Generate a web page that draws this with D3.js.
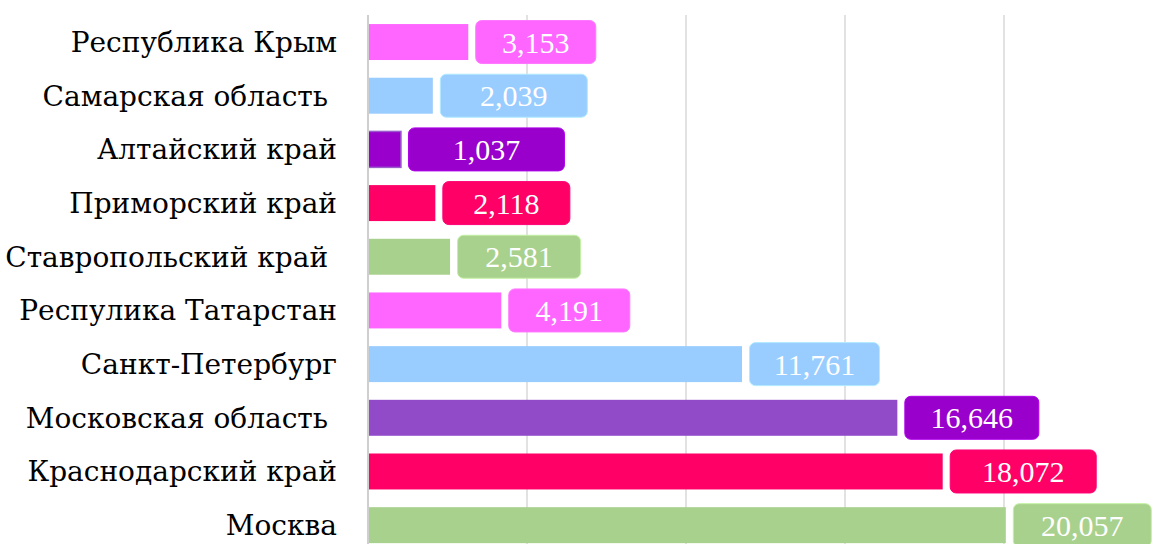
<!DOCTYPE html>
<html>
<head>
<meta charset="utf-8">
<script src="https://cdn.jsdelivr.net/npm/d3@7"></script>
<style>
  body { margin: 0; background: #fff; }
  svg { display: block; }
</style>
</head>
<body>
<svg width="1152" height="544"></svg>
<script>
// Data
var regions = ["Республика Крым", "Самарская область ", "Алтайский край", "Приморский край",
    "Ставропольский край ", "Респулика Татарстан", "Санкт-Петербург", "Московская область ",
    "Краснодарский край", "Москва"];
var values = [3153, 2039, 1037, 2118, 2581, 4191, 11761, 16646, 18072, 20057];
var ticks = [0, 5000, 10000, 15000, 20000, 25000];

// Colors (bar fill / label box fill)
var barColors = ["#FF66FF", "#99CCFF", "#9900CC", "#FF0066", "#A9D18E",
    "#FF66FF", "#99CCFF", "#914AC8", "#FF0066", "#A9D18E"];
var boxColors = ["#FF66FF", "#99CCFF", "#9900CC", "#FF0066", "#A9D18E",
    "#FF66FF", "#99CCFF", "#9900CC", "#FF0066", "#A9D18E"];
// label box widths (the boxes were resized by hand in the original)
var boxWidths = [120, 147, 156, 127, 123, 121, 130, 134, 146, 138];

var svg = d3.select("svg"),
    width = +svg.attr("width"),
    height = +svg.attr("height");

var font = "'Liberation Serif', 'DejaVu Serif', serif";
// Liberation Serif here has no cyrillic, so category names use DejaVu Serif
var catFont = "'DejaVu Serif', serif";

var x = d3.scaleLinear()
    .domain([0, 25000])
    .range([368, 1163]);

var y = d3.scaleBand()
    .domain(regions)
    .range([15.2, 552])
    .paddingInner(0.33)
    .paddingOuter(0.165);

// gridlines
svg.append("g")
    .selectAll("line")
    .data(ticks.slice(1))
    .join("line")
        .attr("x1", d => x(d)).attr("x2", d => x(d))
        .attr("y1", 15).attr("y2", height)
        .attr("stroke", "#d9d9d9")
        .attr("stroke-width", 1.5);

// bars
svg.append("g")
    .selectAll("rect")
    .data(values)
    .join("rect")
        .attr("x", x(0))
        .attr("y", (d, i) => y(regions[i]))
        .attr("width", d => x(d) - x(0))
        .attr("height", y.bandwidth())
        .attr("fill", (d, i) => barColors[i])
        .attr("stroke", (d, i) => i === 2 ? "#9a5ccc" : "none")
        .attr("stroke-width", 1.5);

// axis line
svg.append("line")
    .attr("x1", x(0)).attr("x2", x(0))
    .attr("y1", 15).attr("y2", height)
    .attr("stroke", "#cfcfcf")
    .attr("stroke-width", 2);

// category labels
svg.append("g")
    .selectAll("text")
    .data(regions)
    .join("text")
        .attr("x", 337)
        .attr("y", d => y(d) + y.bandwidth() / 2)
        .attr("dy", "0.35em")
        .attr("text-anchor", "end")
        .attr("font-family", catFont)
        .attr("font-size", 28)
        .attr("fill", "#000")
        .style("white-space", "pre")
        .text(d => d);

// value labels in rounded boxes
var fmt = d3.format(",");
var lbl = svg.append("g")
    .selectAll("g")
    .data(values)
    .join("g")
        .attr("transform", (d, i) => `translate(${x(d) + 7.5},${y(regions[i]) + y.bandwidth() / 2})`);

lbl.append("rect")
    .attr("x", 0)
    .attr("y", -21.5)
    .attr("width", (d, i) => boxWidths[i])
    .attr("height", 43)
    .attr("rx", 6)
    .attr("fill", (d, i) => boxColors[i])
    .attr("stroke", (d, i) => d3.color(boxColors[i]).brighter(0.4))
    .attr("stroke-width", 1);

lbl.append("text")
    .attr("x", (d, i) => boxWidths[i] / 2)
    .attr("dy", "0.35em")
    .attr("text-anchor", "middle")
    .attr("font-family", font)
    .attr("font-size", 30)
    .attr("fill", "#fff")
    .text(d => fmt(d));
</script>
</body>
</html>
